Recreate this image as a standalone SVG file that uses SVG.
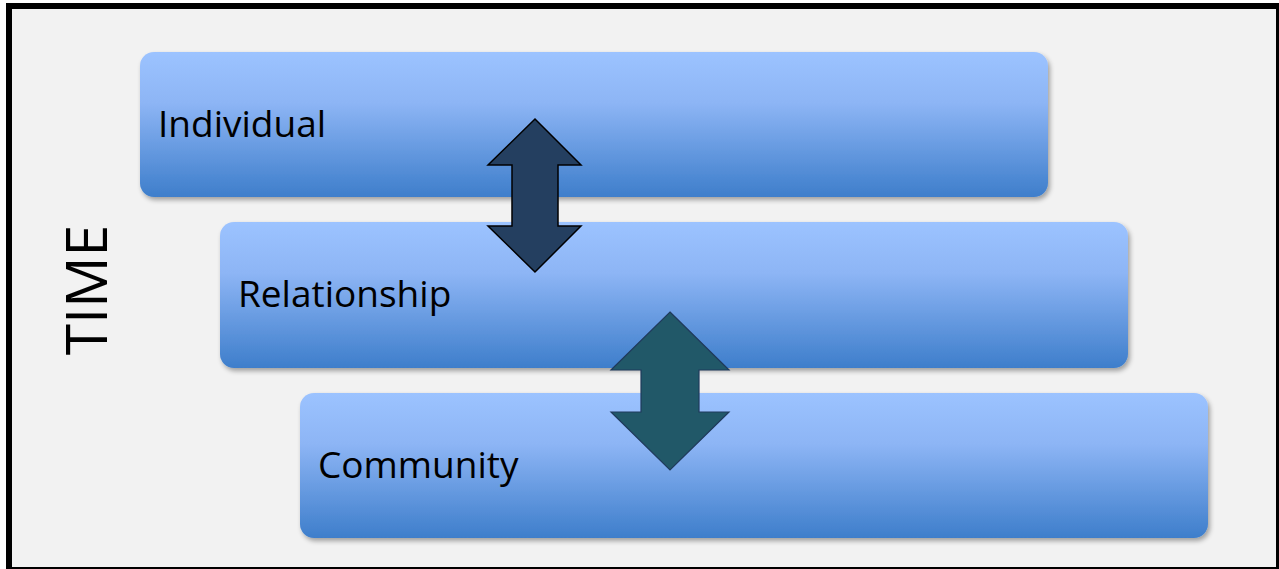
<svg xmlns="http://www.w3.org/2000/svg" width="1279" height="569" viewBox="0 0 1279 569">
  <defs>
    <linearGradient id="bandFill" x1="0" y1="0" x2="0" y2="1">
      <stop offset="0" stop-color="#9CC3FF"/>
      <stop offset="0.35" stop-color="#8DB5F5"/>
      <stop offset="1" stop-color="#3E7ECB"/>
    </linearGradient>
    <filter id="softShadow" x="-5%" y="-10%" width="110%" height="130%">
      <feGaussianBlur in="SourceAlpha" stdDeviation="2.5"/>
      <feOffset dx="2" dy="3" result="b"/>
      <feComponentTransfer><feFuncA type="linear" slope="0.35"/></feComponentTransfer>
      <feMerge><feMergeNode/><feMergeNode in="SourceGraphic"/></feMerge>
    </filter>
    <style>
      .band { fill: url(#bandFill); filter: url(#softShadow); }
      .label { font-family: "Open Sans", "Liberation Sans", sans-serif; font-size: 37px; fill: #000; }
    </style>
  </defs>

  <!-- framed background -->
  <rect x="0" y="0" width="1279" height="569" fill="#FFFFFF"/>
  <rect x="9" y="6" width="1270" height="564" fill="#F2F2F2" stroke="#000" stroke-width="6"/>

  <!-- axis label -->
  <text transform="translate(107,290) rotate(-90)" text-anchor="middle" font-family="'Open Sans', 'Liberation Sans', sans-serif" font-size="57" fill="#000">TIME</text>

  <g id="individual">
    <rect class="band" x="140" y="52" width="908" height="145" rx="14"/>
    <text class="label" x="158" y="137">Individual</text>
  </g>

  <g id="relationship">
    <rect class="band" x="220" y="222" width="908" height="146" rx="14"/>
    <text class="label" x="238" y="307">Relationship</text>
  </g>

  <g id="community">
    <rect class="band" x="300" y="393" width="908" height="145" rx="14"/>
    <text class="label" x="318" y="478">Community</text>
  </g>

  <g id="connectors">
    <polygon points="535,119 581,165 558,165 558,226 581,226 535,272 488,226 512,226 512,165 488,165"
             fill="#243F60" stroke="#000" stroke-width="1.5"/>
    <polygon points="670,312 729,370 699,370 699,412 729,412 670,470 611,412 641,412 641,370 611,370"
             fill="#215868" stroke="#1F3A5C" stroke-width="1.2"/>
  </g>
</svg>
